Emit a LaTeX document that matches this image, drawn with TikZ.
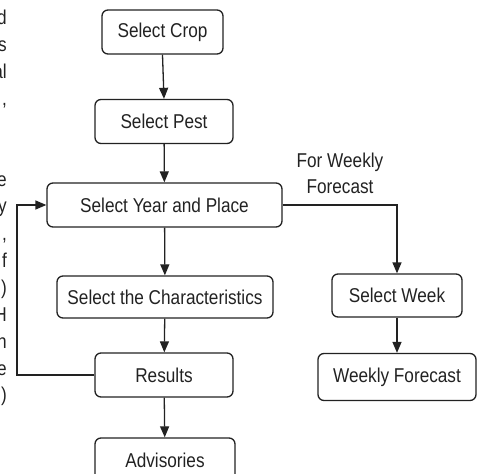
\documentclass[tikz,border=0pt]{standalone}
\usepackage{fontspec}
\setmainfont[FakeStretch=0.86]{Liberation Sans}
\usetikzlibrary{arrows.meta}
\definecolor{ln}{HTML}{222222}
\begin{document}
\begin{tikzpicture}[x=1pt,y=-1pt,
  txt/.style={font=\fontsize{20}{26}\selectfont, text=ln},
  box/.style={txt, draw=ln, rounded corners=6pt, line width=1.3pt, minimum height=44pt, inner sep=0pt},
  arr/.style={draw=ln, line width=1.3pt, -{Triangle[length=11pt,width=9pt]}},
  frag/.style={txt, anchor=base east, inner sep=0pt}]
\useasboundingbox (0,0) rectangle (477,474);

% cropped fragments of body text at the left edge
\node[frag] (f1)  at (7,24)  {d};
\node[frag] (f2)  at (7,51)  {s};
\node[frag] (f3)  at (7,78)  {al};
\node[frag] (f4)  at (7,105) {,};
\node[frag] (f7)  at (7,186) {e};
\node[frag] (f8)  at (7,212) {y};
\node[frag] (f9)  at (7,240) {,};
\node[frag] (f10) at (7,267) {f};
\node[frag] (f11) at (7,294) {)};
\node[frag] (f12) at (7,321) {H};
\node[frag] (f13) at (7,348) {n};
\node[frag] (f14) at (7,375) {e};
\node[frag] (f15) at (7,401) {)};

% boxes
\node[box, minimum width=121pt] (crop)    at (162.5,32)  {Select Crop};
\node[box, minimum width=138pt] (pest)    at (164,121.5) {Select Pest};
\node[box, minimum width=235pt] (year)    at (164.5,205) {Select Year and Place};
\node[box, minimum width=216pt, minimum height=42pt] (char) at (165,297) {Select the Characteristics};
\node[box, minimum width=138pt] (results) at (164,375)   {Results};
\node[box, minimum width=140pt] (advis)   at (165,460)   {Advisories};
\node[box, minimum width=130pt, minimum height=43pt] (week) at (397,295.5) {Select Week};
\node[box, minimum width=158pt, minimum height=47pt] (wf)   at (397,377)   {Weekly Forecast};

\node[txt, align=center, inner sep=0pt] (lbl) at (340,173) {For Weekly\\Forecast};

% connectors
\draw[arr] (crop.south) -- (pest.north);
\draw[arr] (pest) -- (year);
\draw[arr] (year) -- (char);
\draw[arr] (char) -- (results);
\draw[arr] (results) -- (advis);
\draw[arr] (year.east) -| (week.north);
\draw[arr] (week) -- (wf);
\coordinate (loop) at (17,375);
\draw[arr] (results.west) -- (loop) |- (year.west);
\end{tikzpicture}
\end{document}
